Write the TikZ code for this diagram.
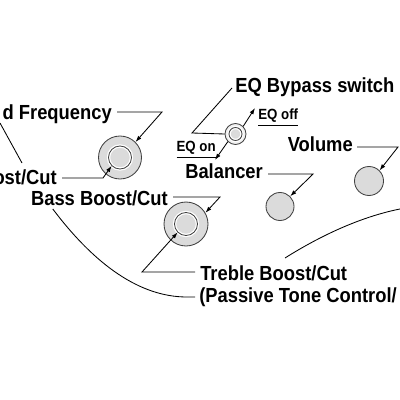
\documentclass[tikz,border=0pt]{standalone}
\usepackage{fontspec}
\newfontfamily\lblfont[FakeStretch=0.9]{Liberation Sans}
\usetikzlibrary{arrows.meta}
\begin{document}
\begin{tikzpicture}[x=0.025cm, y=-0.025cm,
    knob/.style={circle, draw=black!75, fill=black!14, line width=0.6pt, inner sep=0pt},
    knobin/.style={circle, fill=black!14, inner sep=0pt,
        postaction={draw=white, line width=2.4pt},
        postaction={draw=black!75, line width=0.6pt}},
    lbl/.style={inner sep=0pt, font=\lblfont\bfseries\fontsize{14.5}{16}\selectfont},
    small/.style={inner sep=0pt, font=\lblfont\bfseries\fontsize{10.5}{12}\selectfont},
    lead/.style={line width=0.6pt},
    pointer/.style={lead, -{Latex[length=4.5pt,width=3pt]}}]
    % parametri
    \def\px{0.025cm}

    % cornice
    \useasboundingbox (0,0) rectangle (400,400);

    % manopole
    \node[knob, minimum size=43*\px] (kmid) at (120,157.5) {};
    \node[knobin, minimum size=23*\px] (kmidin) at (120,157.5) {};
    \node[knob, minimum size=44*\px] (kbass) at (186,224) {};
    \node[knobin, minimum size=23*\px] (kbassin) at (186,224) {};
    \node[knob, fill=black!6, minimum size=21*\px] (keq) at (235.5,134) {};
    \node[knobin, minimum size=13*\px] (keqin) at (235.5,134) {};
    \node[knob, minimum size=28*\px] (kbal) at (280,206.5) {};
    \node[knob, minimum size=29*\px] (kvol) at (369,181) {};

    % etichette
    \node[lbl, anchor=base east] (lfreq) at (112,120) {d Frequency};
    \node[lbl, anchor=base east] (lmid) at (57,184) {ost/Cut};
    \node[lbl, anchor=base east] (lbass) at (168,205) {Bass Boost/Cut};
    \node[lbl, anchor=base west] (lbypass) at (235,93) {EQ Bypass switch};
    \node[small, anchor=base west] (leqoff) at (258,120) {\underline{EQ off}};
    \node[small, anchor=base east] (leqon) at (216,152) {\underline{EQ on}};
    \node[lbl, anchor=base west] (lbal) at (185,179) {Balancer};
    \node[lbl, anchor=base east] (lvol) at (353,152) {Volume};
    \node[lbl, anchor=base west] (ltreble) at (200,280) {Treble Boost/Cut};
    \node[lbl, anchor=base west] (lpassive) at (199,302) {(Passive Tone Control/};

    % frecce
    \draw[pointer] ([shift={(5,-8)}]lfreq.base east) -- ++(45,0) -- (kmid.45);
    \draw[pointer] ([shift={(5,-6)}]lmid.base east) -- ++(41,0) -- (kmidin.225);
    \draw[pointer] ([shift={(5,-8)}]lbass.base east) -- ++(47,0) -- (kbass.30);
    \draw[pointer] ([shift={(-5,-8)}]ltreble.base west) -- ++(-53,0) -- (kbassin.225);
    \draw[lead] ([shift={(-3,-5)}]lbypass.base west) -- ++(-40,45) -- (keq.west);
    \draw[pointer] (keq.45) -- ([shift={(-3,-12)}]leqoff.base west);
    \draw[pointer] (keq.225) -- ([shift={(-1,8)}]leqon.base east);
    \draw[pointer] ([shift={(5,-5)}]lbal.base east) -- ++(45,0) -- (kbal.45);
    \draw[pointer] ([shift={(4,-5)}]lvol.base east) -- ++(41,0) -- (kvol.45);

    % linee del corpo
    \draw[lead] ([shift={(22,4)}]lbass.base west) .. controls (95,265) and (140,297) .. (187,297)
        -- ([shift={(-4,-5)}]lpassive.base west);
    \draw[lead] (285,258) .. controls (320,236) and (360,217) .. (400,209);
    \draw[lead] (0,123) -- (22,163);
\end{tikzpicture}
\end{document}
